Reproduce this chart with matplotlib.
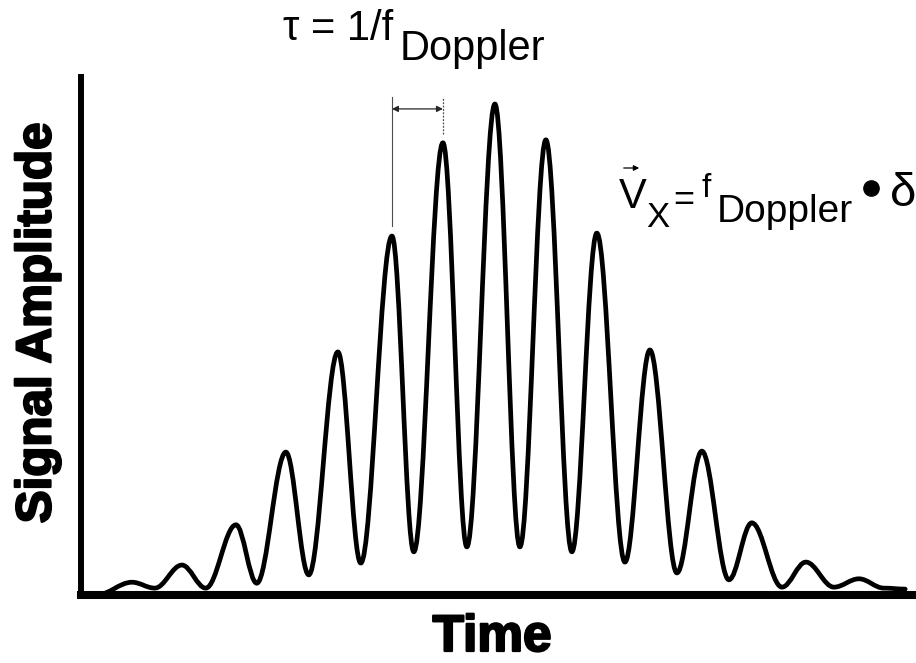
import matplotlib.pyplot as plt
import matplotlib.patheffects as pe
from matplotlib.path import Path
from matplotlib.patches import PathPatch, FancyArrowPatch
from matplotlib.lines import Line2D

# Doppler burst: extrema of the signal, time in Doppler periods,
# amplitude relative to the centre peak
peak_time = [0.98, 1.94, 2.98, 3.94, 4.94, 5.98, 6.96, 7.96, 8.94, 9.92,
             10.94, 11.94, 12.90, 13.94, 14.96]
peak_amp = [0.026, 0.061, 0.143, 0.291, 0.495, 0.731, 0.921, 1.000, 0.927,
            0.737, 0.499, 0.293, 0.147, 0.067, 0.033]
trough_time = [1.42, 2.40, 3.38, 4.38, 5.38, 6.40, 7.42, 8.44, 9.44, 10.46,
               11.46, 12.46, 13.48, 14.48, 15.44]
trough_amp = [0.014, 0.014, 0.024, 0.041, 0.065, 0.088, 0.098, 0.098, 0.088,
              0.067, 0.045, 0.031, 0.016, 0.016, 0.014]
start_point = (0.30, 0.0)
end_point = (15.85, 0.012)

W, H = 916, 663
TEXT_FONT = ['Liberation Sans', 'DejaVu Sans']
LABEL_FONT = ['Liberation Sans', 'DejaVu Sans']
heavy = [pe.withStroke(linewidth=1.6, foreground='black')]


def put(fig, s, px, py, size, **kw):
    """Place text by pixel position (left/baseline)."""
    kw.setdefault('ha', 'left')
    kw.setdefault('va', 'baseline')
    kw.setdefault('family', TEXT_FONT)
    fig.text(px / W, 1 - py / H, s, fontsize=size, **kw)


def burst_path():
    """Smooth path through the extrema with horizontal tangents at each one."""
    pts = [start_point]
    for i in range(len(peak_time)):
        pts.append((peak_time[i], peak_amp[i]))
        pts.append((trough_time[i], trough_amp[i]))
    pts.append(end_point)

    verts = [pts[0]]
    codes = [Path.MOVETO]
    k = 0.36
    for (x0, y0), (x1, y1) in zip(pts[:-1], pts[1:]):
        dx = x1 - x0
        verts += [(x0 + k * dx, y0), (x1 - k * dx, y1), (x1, y1)]
        codes += [Path.CURVE4] * 3
    return Path(verts, codes)


fig = plt.figure(figsize=(W / 100, H / 100), dpi=100)
ax = fig.add_axes([81 / W, 68 / H, 831 / W, 518 / H])
ax.set_xlim(0, 831 / 52)
ax.set_ylim(0, 518 / 491)

for side in ['top', 'right']:
    ax.spines[side].set_visible(False)
ax.spines['left'].set_linewidth(4.3)
ax.spines['bottom'].set_linewidth(5.8)
ax.set_xticks([])
ax.set_yticks([])

patch = PathPatch(burst_path(), facecolor='none', edgecolor='black', lw=3.4,
                  capstyle='round', joinstyle='round')
ax.add_patch(patch)

# period marker between two neighbouring peaks
ax.plot([peak_time[5]] * 2, [peak_amp[5] + 0.02, 1.014], color='0.3', lw=0.8)
ax.plot([peak_time[6]] * 2, [peak_amp[6] + 0.018, 1.014], color='0.3', lw=0.9,
        ls=(0, (1.5, 1.2)))
ax.annotate('', xy=(peak_time[5], 0.99), xytext=(peak_time[6], 0.99),
            arrowprops=dict(arrowstyle='<|-|>', color='0.15', lw=0.9,
                            mutation_scale=9, shrinkA=0, shrinkB=0))

# axis titles
fig.text(38 / W, 1 - 323 / H, 'Signal Amplitude', rotation=90, ha='center',
         va='center', fontsize=35.5, fontweight='bold', family=LABEL_FONT,
         path_effects=heavy)
put(fig, 'Time', 492, 651, 37, ha='center', fontweight='bold',
    family=LABEL_FONT, path_effects=heavy)

# tau = 1/f_Doppler
put(fig, 'τ = 1/f', 283, 40, 30)
put(fig, 'Doppler', 400, 60, 30)

# V_x = f_Doppler . delta
put(fig, 'V', 619, 208, 30)
fig.add_artist(FancyArrowPatch((621 / W, 1 - 168 / H), (642 / W, 1 - 168 / H),
                               transform=fig.transFigure, arrowstyle='-|>',
                               mutation_scale=8, lw=0.9, color='black'))
put(fig, 'X', 646, 227, 25)
put(fig, '=', 673, 210, 26)
put(fig, 'f', 702, 197, 24)
put(fig, 'Doppler', 717, 222, 28)
fig.add_artist(Line2D([871 / W], [1 - 188 / H], marker='o', ms=11,
                      color='black', transform=fig.transFigure))
put(fig, 'δ', 890, 206, 34)

fig.savefig('out.png', dpi=100)
